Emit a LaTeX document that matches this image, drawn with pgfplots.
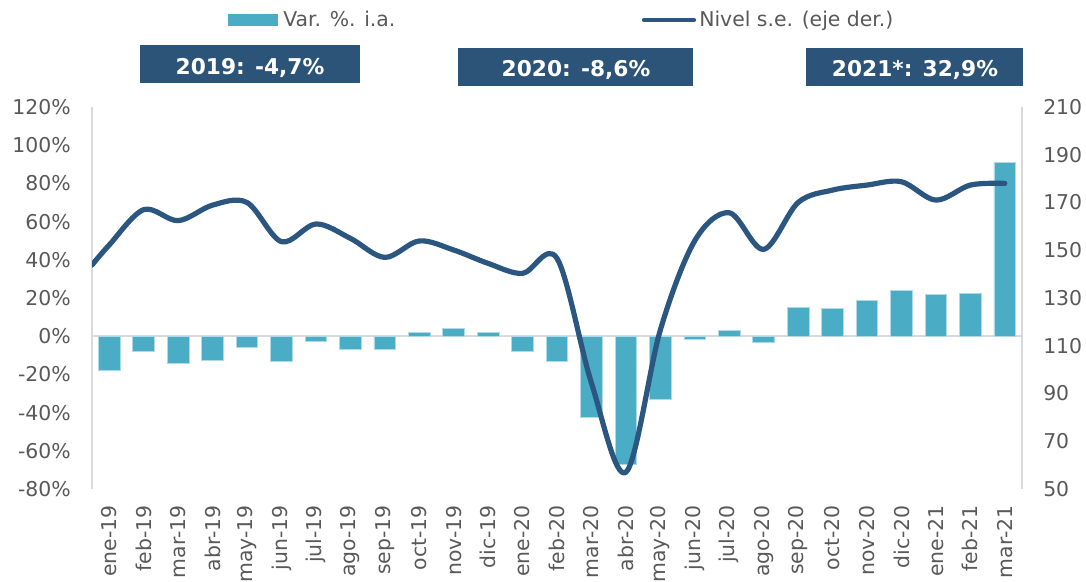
\documentclass[border=0pt]{standalone}
\usepackage{fontspec}
\setmainfont{DejaVu Sans}
\usepackage{pgfplots}
\pgfplotsset{compat=1.18}
\definecolor{BarC}{HTML}{4BACC6}
\definecolor{Lvl}{HTML}{2B5680}
\definecolor{BoxC}{HTML}{2C5378}
\definecolor{Txt}{HTML}{595959}
\definecolor{AxC}{HTML}{D9D9D9}

\pgfplotsset{
  every tick label/.append style={font=\fontsize{15.3}{18}\selectfont,text=Txt},
  /pgf/number format/assume math mode=true,
}

\begin{document}
\begin{tikzpicture}
\useasboundingbox (0,0) rectangle (814.5pt,436.5pt);

% left axis: bars
\begin{axis}[
  at={(69pt,69.75pt)},anchor=south west,
  scale only axis,width=697.5pt,height=286.5pt,
  xmin=-0.5,xmax=26.5,ymin=-80,ymax=120,
  axis x line*=bottom,axis y line*=left,
  x axis line style={draw=none},
  y axis line style={AxC,line width=1.1pt,-},
  major tick length=0pt,tick style={draw=none},
  xtick={0,...,26},
  xticklabels={ene-19,feb-19,mar-19,abr-19,may-19,jun-19,jul-19,ago-19,sep-19,oct-19,nov-19,dic-19,
    ene-20,feb-20,mar-20,abr-20,may-20,jun-20,jul-20,ago-20,sep-20,oct-20,nov-20,dic-20,
    ene-21,feb-21,mar-21},
  xticklabel style={rotate=90,anchor=east,inner sep=0pt},
  xticklabel shift=12pt,
  ytick={-80,-60,...,120},
  yticklabel={\pgfmathprintnumber{\tick}\%},
  yticklabel style={anchor=east,inner sep=0pt},
  yticklabel shift=15.75pt,
  extra y ticks={0},extra y tick labels={},
  extra y tick style={grid=major,major grid style={AxC,line width=1.5pt}},
]
\addplot[ybar,bar width=16.3pt,fill=BarC,draw=BarC!45!white,line width=0.6pt] coordinates {
(0,-18)(1,-7.7)(2,-14.5)(3,-12.5)(4,-6)(5,-13)(6,-2.6)(7,-7)(8,-6.8)(9,2.1)(10,4)(11,2.1)
(12,-7.7)(13,-13.2)(14,-42.4)(15,-67)(16,-33.2)(17,-1.7)(18,3.1)(19,-3.5)(20,15.2)(21,14.7)
(22,18.8)(23,23.8)(24,22)(25,22.2)(26,91.1)};
\end{axis}

% right axis: level
\begin{axis}[
  at={(69pt,69.75pt)},anchor=south west,
  scale only axis,width=697.5pt,height=286.5pt,
  xmin=-0.5,xmax=26.5,ymin=50,ymax=210,
  axis x line=none,axis y line*=right,
  y axis line style={AxC,line width=1.1pt,-},
  major tick length=0pt,tick style={draw=none},
  ytick={50,70,...,210},
  yticklabel style={anchor=west,inner sep=0pt},
  yticklabel shift=15.75pt,
]
\addplot[Lvl,line width=3.9pt,smooth,tension=0.55,line cap=round,line join=round] coordinates {
(-0.5,143.8)(0,152.2)(1,167)(2,162.4)(3,168.9)(4,170)(5,153.6)(6,161)(7,155)(8,147)(9,153.9)
(10,150.1)(11,144.5)(12,140.3)(13,146.6)(14,94.4)(15,57)(16,116.6)(17,154)(18,165.7)(19,150.4)
(20,170)(21,175.2)(22,177.3)(23,178.7)(24,171)(25,177.3)(26,178)};
\end{axis}

\begin{scope}[x=0.75pt,y=0.75pt]
% legend
\fill[BarC] (228,556) rectangle (278,568);
\node[anchor=base west,inner sep=0pt,text=Txt,font=\fontsize{15.3}{18}\selectfont] at (283,555) {Var. \%. i.a.};
\draw[Lvl,line width=3.2pt,line cap=round] (644,562) -- (694,562);
\node[anchor=base west,inner sep=0pt,text=Txt,font=\fontsize{15.3}{18}\selectfont] at (699,555) {Nivel s.e. (eje der.)};
% yearly boxes
\fill[BoxC] (140,499) rectangle (360,537);
\node[anchor=base,inner sep=0pt,text=white,font=\bfseries\fontsize{16.3}{19}\selectfont] at (250,507) {2019: -4,7\%};
\fill[BoxC] (458,496) rectangle (693,534);
\node[anchor=base,inner sep=0pt,text=white,font=\bfseries\fontsize{16.3}{19}\selectfont] at (576,505) {2020: -8,6\%};
\fill[BoxC] (806,496) rectangle (1023,534);
\node[anchor=base,inner sep=0pt,text=white,font=\bfseries\fontsize{16.3}{19}\selectfont] at (915,505) {2021*: 32,9\%};
\end{scope}
\end{tikzpicture}
\end{document}
